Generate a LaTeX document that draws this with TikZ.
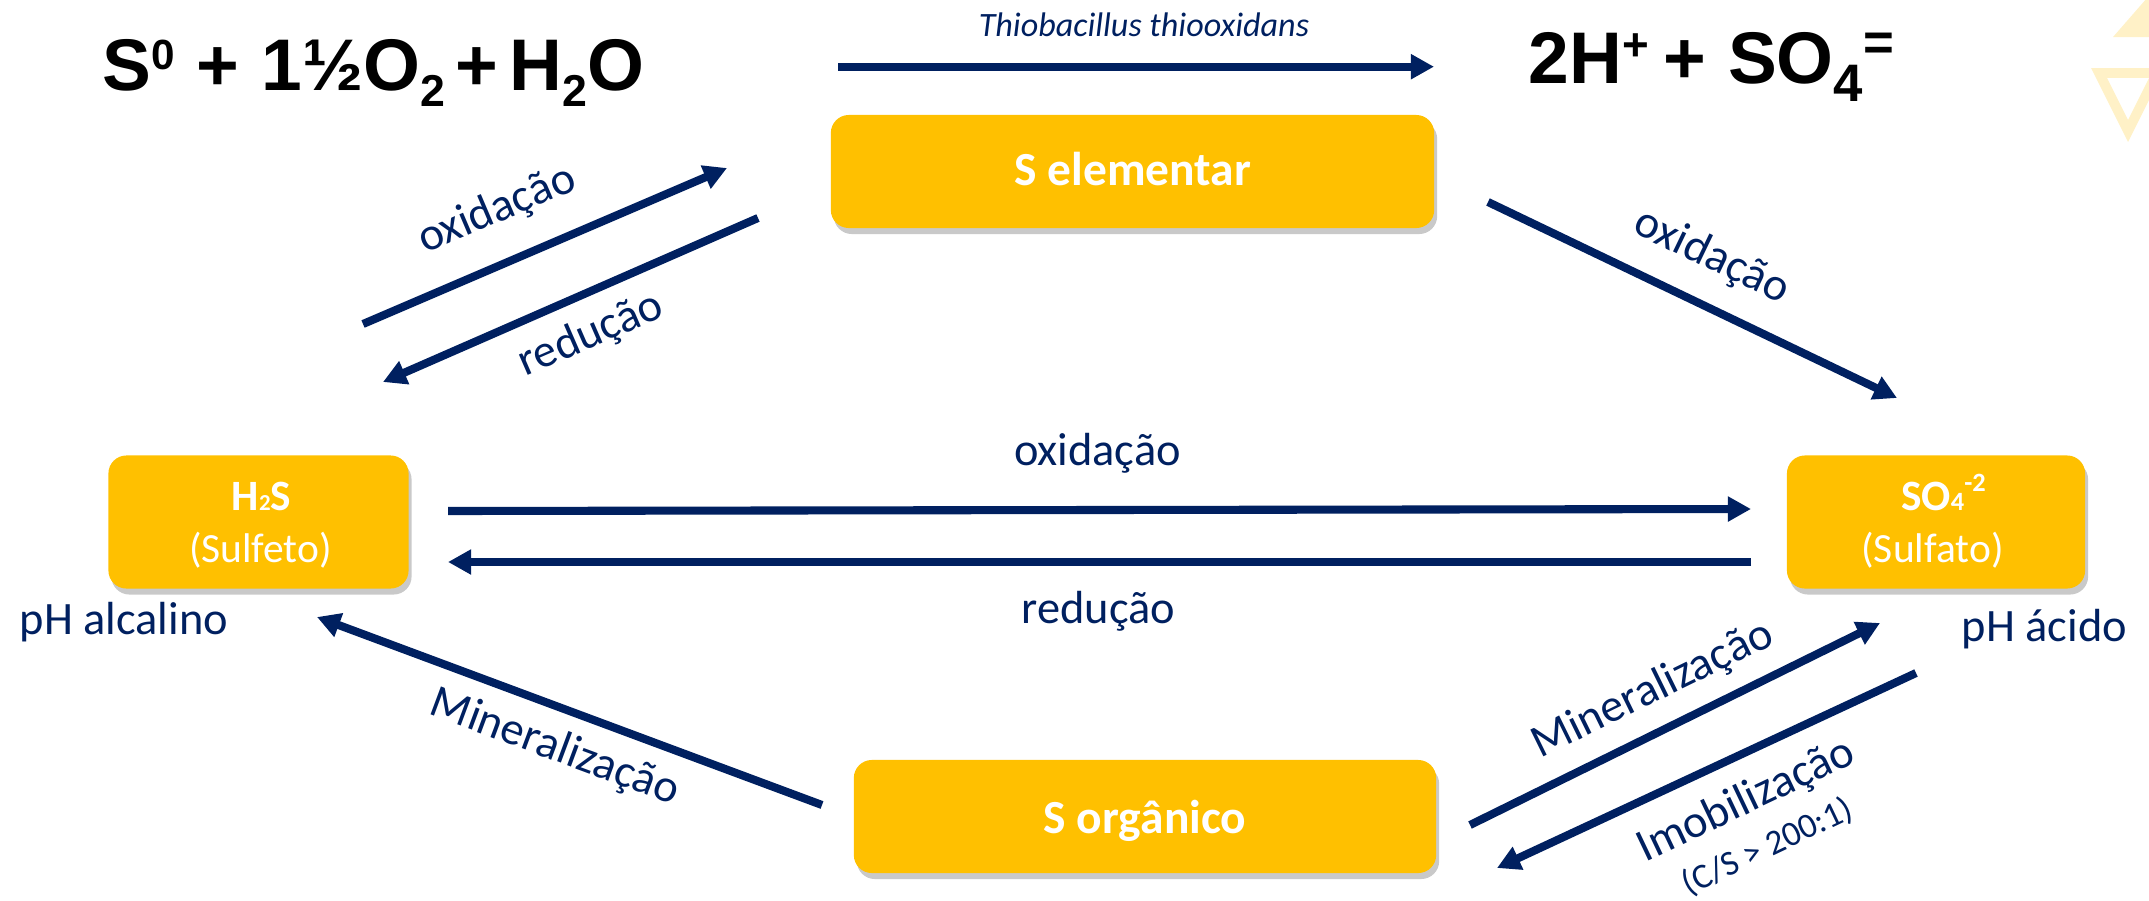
\documentclass[tikz,border=0pt]{standalone}
\usepackage{fontspec}
\setmainfont{Carlito}
\newfontfamily\eqfont{Liberation Sans}
\usetikzlibrary{arrows.meta,shadows}
\definecolor{navy}{HTML}{002060}
\definecolor{gold}{HTML}{FFC000}
\newcommand\fsz[1]{\fontsize{#1}{#1}\selectfont}
\begin{document}
\begin{tikzpicture}[x=0.01cm,y=-0.01cm,
  box/.style={fill=gold, rounded corners=0.18cm, draw=none, inner sep=0pt,
    drop shadow={shadow xshift=0.03cm, shadow yshift=-0.06cm, opacity=0.3, fill=black!70}},
  boxbold/.style={text=white, inner sep=0pt, anchor=base, font=\bfseries\fsz{13.5pt}},
  boxsmall/.style={text=white, inner sep=0pt, anchor=base, font=\fsz{11.8pt}},
  conn/.style={draw=navy, line width=2.3pt, -{Triangle[length=6.6pt,width=6.8pt]}},
  lbl/.style={text=navy, inner sep=0pt, font=\fsz{13.2pt}},
  eq/.style={text=black, inner sep=0pt, anchor=base west, font=\eqfont\bfseries\fsz{20.8pt}},
]
\useasboundingbox (0,0) rectangle (2149,900);

% faint watermark
\fill[gold!22] (2113,37) -- (2195,37) -- (2154,-10) -- cycle;
\draw[gold!22, line width=2.8pt] (2099,73) -- (2128,131) -- (2157,73) -- cycle;

% boxes
\node[box, minimum width=6.03cm, minimum height=1.13cm] (selem) at (1132.5,171.5) {};
\node[box, minimum width=3.00cm, minimum height=1.33cm] (h2s) at (258.5,522) {};
\node[box, minimum width=2.98cm, minimum height=1.33cm] (so4) at (1936,522) {};
\node[box, minimum width=5.82cm, minimum height=1.13cm] (sorg) at (1145,816.5) {};

\node[boxbold] (selemt) at (1133,185) {S elementar};
\node[boxbold] (sorgt) at (1145,833) {S orgânico};
\node[boxbold, font=\bfseries\fsz{12.3pt}] (h2st) at (261.5,510) {H{\fsz{6.5pt}2}S};
\node[boxsmall] (h2ss) at (260.5,562) {(Sulfeto)};
\node[boxbold, font=\bfseries\fsz{12.3pt}] (so4t) at (1943.5,510) {SO{\fsz{7.5pt}4}\raisebox{5.2pt}{\fsz{7.5pt}-2}};
\node[boxsmall] (so4s) at (1932.5,562) {(Sulfato)};

% equations
\node[eq] (eqleft) at (102,90) {S\raisebox{5.7pt}{\fsz{12pt}0}\hspace{0.3em}+\hspace{0.3em}1½O\raisebox{-4.8pt}{\fsz{12.7pt}2}\hspace{0.15em}+\hspace{0.15em}H\raisebox{-4.8pt}{\fsz{12.7pt}2}O};
\node[eq] (eqright) at (1528,83) {2H\raisebox{6.5pt}{\fsz{13pt}+}\hspace{0.2em}+\hspace{0.3em}SO\raisebox{-5.4pt}{\fsz{15pt}4}\raisebox{6.3pt}{\fsz{15pt}=}};
\node[text=navy, inner sep=0pt, anchor=base, font=\itshape\fsz{9.7pt}] (thio) at (1144,37) {Thiobacillus thiooxidans};

% pH labels
\node[lbl, anchor=base west] (phalc) at (19,634) {pH alcalino};
\node[lbl, anchor=base west] (phac) at (1961,641) {pH ácido};

% arrow end points
\coordinate (topA) at (838,66.7);   \coordinate (topB) at (1434,66.7);
\coordinate (uloA) at (363,324);    \coordinate (uloB) at (727,168);
\coordinate (ulrA) at (758,218);    \coordinate (ulrB) at (383,382);
\coordinate (uroA) at (1488,202);   \coordinate (uroB) at (1897,398);
\coordinate (midoA) at (448,511);   \coordinate (midoB) at (1751,509);
\coordinate (midrA) at (1751,562);  \coordinate (midrB) at (448,562);
\coordinate (blmA) at (822,805);    \coordinate (blmB) at (317,617);
\coordinate (brmA) at (1470,825);   \coordinate (brmB) at (1880,623);
\coordinate (briA) at (1916,673);   \coordinate (briB) at (1497,868);

\draw[conn] (topA) -- (topB);
\draw[conn] (uloA) -- (uloB);
\draw[conn] (ulrA) -- (ulrB);
\draw[conn] (uroA) -- (uroB);
\draw[conn] (midoA) -- (midoB);
\draw[conn] (midrA) -- (midrB);
\draw[conn] (blmA) -- (blmB);
\draw[conn] (brmA) -- (brmB);
\draw[conn] (briA) -- (briB);

% connector labels
\node[lbl, rotate=23.1] (l1) at (497,210) {oxidação};
\node[lbl, rotate=23.5] (l2) at (591,335) {redução};
\node[lbl, rotate=-25.7] (l3) at (1712,257) {oxidação};
\node[lbl, anchor=base] (l4) at (1097.5,465) {oxidação};
\node[lbl, anchor=base] (l5) at (1098.5,623) {redução};
\node[lbl, rotate=-20.4] (l6) at (555,748) {Mineralização};
\node[lbl, rotate=26.1] (l7) at (1653,690) {Mineralização};
\node[lbl, rotate=25.4] (l8) at (1746.5,801) {Imobilização};
\node[lbl, rotate=25.4, font=\fsz{10pt}] (l9) at (1767.5,847) {(C/S > 200:1)};
\end{tikzpicture}
\end{document}
